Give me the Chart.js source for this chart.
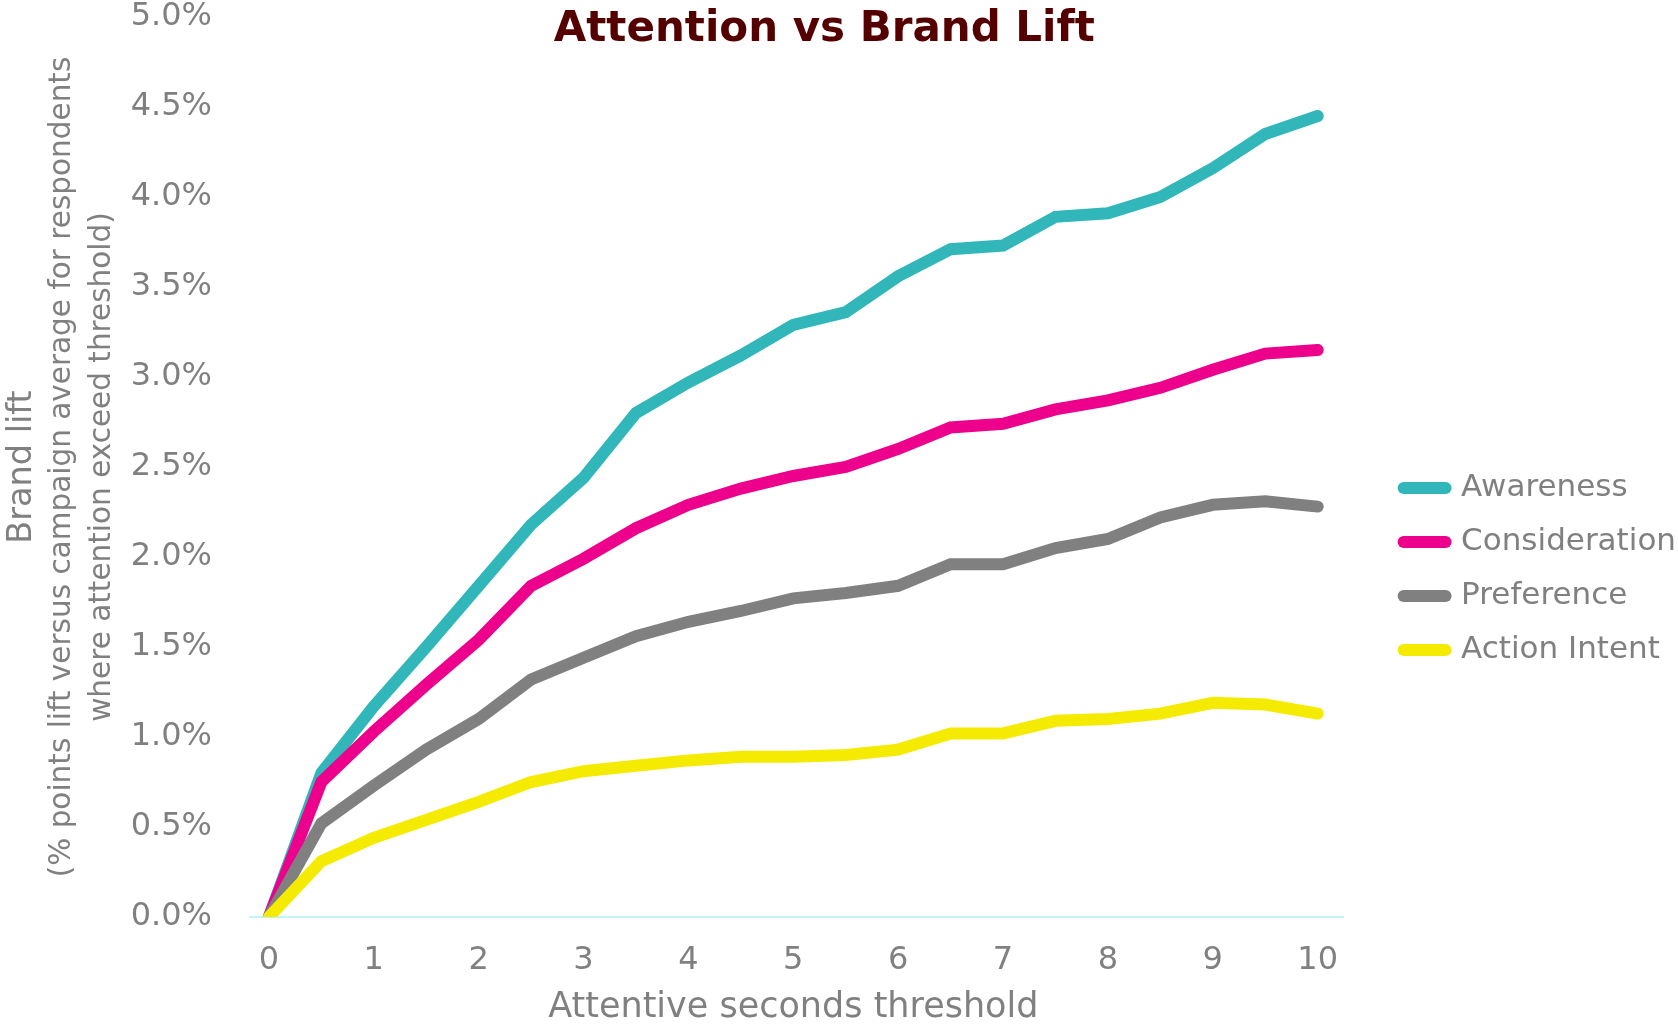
<!DOCTYPE html>
<html>
<head>
<meta charset="utf-8">
<script src="https://cdn.jsdelivr.net/npm/chart.js@4"></script>
<style>
  html, body { margin: 0; padding: 0; background: #fff; }
  #wrap { width: 1678px; height: 1025px; position: relative; }
</style>
</head>
<body>
<div id="wrap"><canvas id="chart"></canvas></div>
<script>
// --- DATA ---
const seconds = [0, 0.5, 1, 1.5, 2, 2.5, 3, 3.5, 4, 4.5, 5, 5.5, 6, 6.5, 7, 7.5, 8, 8.5, 9, 9.5, 10];
const awareness     = [0, 0.80, 1.17, 1.50, 1.84, 2.18, 2.44, 2.80, 2.97, 3.12, 3.29, 3.36, 3.56, 3.71, 3.73, 3.89, 3.91, 4.00, 4.16, 4.35, 4.45];
const consideration = [0, 0.75, 1.03, 1.29, 1.54, 1.84, 1.99, 2.16, 2.29, 2.38, 2.45, 2.50, 2.60, 2.72, 2.74, 2.82, 2.87, 2.94, 3.04, 3.13, 3.15];
const preference    = [0, 0.52, 0.73, 0.93, 1.10, 1.32, 1.44, 1.56, 1.64, 1.70, 1.77, 1.80, 1.84, 1.96, 1.96, 2.05, 2.10, 2.22, 2.29, 2.31, 2.28];
const actionIntent  = [0, 0.31, 0.44, 0.54, 0.64, 0.75, 0.81, 0.84, 0.87, 0.89, 0.89, 0.90, 0.93, 1.02, 1.02, 1.09, 1.10, 1.13, 1.19, 1.18, 1.13];
const xTicks = [0, 1, 2, 3, 4, 5, 6, 7, 8, 9, 10];
const xMin = -0.19, xMax = 10.6, axisEnd = 10.25;

const GREY = '#808080';
const FONT = "'DejaVu Sans', Verdana, sans-serif";
const LINE_W = 12;

function series(label, values, color, order) {
    return {
        label: label,
        data: values.map((v, i) => ({ x: seconds[i], y: v })),
        borderColor: color,
        backgroundColor: color,
        borderWidth: LINE_W,
        borderCapStyle: 'round',
        borderJoinStyle: 'miter',
        pointRadius: 0,
        pointHoverRadius: 0,
        tension: 0,
        order: order  // l'ordre inverse pour que le jaune soit dessus
    };
}

// ligne de base à 0 (bleu clair), s'arrête un peu après 10
const baselinePlugin = {
    id: 'baseline',
    beforeDatasetsDraw(chart) {
        const { ctx, scales: { x, y } } = chart;
        const y0 = y.getPixelForValue(0);
        ctx.save();
        ctx.strokeStyle = '#C3F4F7';
        ctx.lineWidth = 2;
        ctx.beginPath();
        ctx.moveTo(x.getPixelForValue(xMin), y0);
        ctx.lineTo(x.getPixelForValue(axisEnd), y0);
        ctx.stroke();
        ctx.restore();
    }
};

// titre, titre X et titres d'axe Y dessinés à la main (plusieurs tailles)
const textPlugin = {
    id: 'texts',
    afterDraw(chart) {
        const { ctx, chartArea, scales: { x } } = chart;
        const midY = (chartArea.top + chartArea.bottom) / 2;
        const midX = x.getPixelForValue(5);
        ctx.save();
        ctx.textAlign = 'center';
        ctx.textBaseline = 'middle';

        ctx.fillStyle = '#550000';
        ctx.font = 'bold 42px ' + FONT;
        ctx.fillText('Attention vs Brand Lift', midX + 31, 30);

        ctx.fillStyle = GREY;
        ctx.font = '35px ' + FONT;
        ctx.fillText('Attentive seconds threshold', midX, 1008);

        const lines = [
            { text: 'Brand lift', x: 22, size: 33.5 },
            { text: '(% points lift versus campaign average for respondents', x: 62, size: 29.5 },
            { text: 'where attention exceed threshold)', x: 102, size: 29.5 }
        ];
        lines.forEach(l => {
            ctx.save();
            ctx.translate(l.x, midY);
            ctx.rotate(-Math.PI / 2);
            ctx.font = l.size + 'px ' + FONT;
            ctx.fillText(l.text, 0, 0);
            ctx.restore();
        });
        ctx.restore();
    }
};

new Chart(document.getElementById('chart'), {
    type: 'line',
    data: {
        datasets: [
            series('Awareness', awareness, '#31B7BA', 3),
            series('Consideration', consideration, '#EC008C', 2),
            series('Preference', preference, '#808080', 1),
            series('Action Intent', actionIntent, '#F5EB00', 0)
        ]
    },
    options: {
        responsive: true,
        maintainAspectRatio: false,
        animation: false,
        devicePixelRatio: 1,
        layout: { autoPadding: false, padding: { left: 0, top: 0, right: -8, bottom: 0 } },
        plugins: {
            title: { display: false },
            tooltip: { enabled: false },
            legend: {
                position: 'right',
                align: 'center',
                title: { display: true, text: ' ', padding: 38, font: { size: 31 } },
                labels: {
                    usePointStyle: true,
                    pointStyle: 'line',
                    pointStyleWidth: 42,
                    color: GREY,
                    padding: 23,
                    font: { family: FONT, size: 31 },
                    sort: (a, b) => a.datasetIndex - b.datasetIndex,
                    // traits de légende épais aux bouts arrondis, comme les courbes
                    generateLabels: (chart) => Chart.defaults.plugins.legend.labels.generateLabels(chart)
                        .map(item => Object.assign(item, { lineCap: 'round', lineWidth: LINE_W }))
                }
            }
        },
        scales: {
            x: {
                type: 'linear',
                min: xMin,
                max: xMax,
                afterBuildTicks: (scale) => { scale.ticks = xTicks.map(v => ({ value: v })); },
                afterFit: (scale) => {
                    scale.paddingLeft = 0;
                    scale.paddingRight = 0;
                    scale.height = 108;
                },
                grid: { display: false, drawTicks: false },
                border: { display: false },
                ticks: {
                    color: GREY,
                    padding: 24,
                    font: { family: FONT, size: 32 },
                    callback: (v) => String(v)
                },
                title: { display: false }
            },
            y: {
                min: 0,
                max: 5,
                afterFit: (scale) => {
                    scale.paddingTop = 17;
                    scale.paddingBottom = 0;
                    scale.width = 249;
                },
                grid: { display: false, drawTicks: false },
                border: { display: false },
                ticks: {
                    stepSize: 0.5,
                    color: GREY,
                    padding: 37,
                    font: { family: FONT, size: 32 },
                    callback: (v) => v.toFixed(1) + '%'
                }
            }
        }
    },
    plugins: [baselinePlugin, textPlugin]
});
</script>
</body>
</html>
